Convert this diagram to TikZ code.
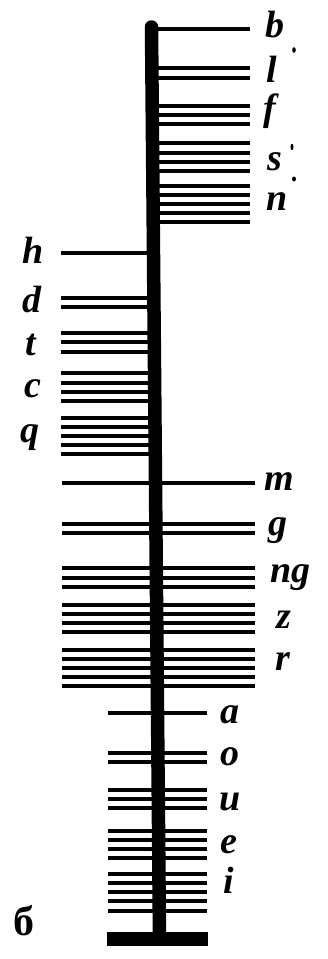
\documentclass[tikz,border=0pt]{standalone}
\usepackage{fontspec}
\setmainfont{Liberation Serif}
\begin{document}
\begin{tikzpicture}[x=1pt,y=-1pt,
  stroke/.style={line width=3.6pt},
  lbl/.style={font=\fontsize{38}{38}\selectfont\bfseries\itshape, inner sep=0pt, anchor=base west},
  mk/.style={fill=black}]
\useasboundingbox (0,0) rectangle (328,959);
% group 1: right of stem
\foreach \y in {29,68,78,106,115,124,143,153,162,171,186,195,204,213,222}
  \draw[stroke] (155,\y) -- (250,\y);
% group 2: left of stem
\foreach \y in {253,298,307,333,342,352,373,383,392,401,418,427,436,445,454}
  \draw[stroke] (61,\y) -- (152,\y);
% group 3: across
\foreach \y in {483,524,533,568,578,587,605,614,623,632,650,659,668,677,686}
  \draw[stroke] (62,\y) -- (255,\y);
% group 4: vowels, short across
\foreach \y in {713,753,762,790,799,808,831,840,849,858,874,883,892,901,911}
  \draw[stroke] (108,\y) -- (207,\y);
% stem and base
\coordinate (top) at (151.5,27);
\coordinate (bot) at (159.5,938);
\draw[line width=13.5pt, line cap=round] (top) -- (bot);
\fill (107,932) rectangle (208,946);
% labels
\node[lbl] (b) at (265,37) {b};
\node[lbl] (l) at (266,82) {l};
\node[lbl] (f) at (263,120) {f};
\node[lbl] (s) at (267,170) {s};
\node[lbl] (n) at (266,210) {n};
\fill[mk] (294,50) ellipse (1.8 and 2.8);
\fill[mk] (292,147) ellipse (1.5 and 3.2);
\fill[mk] (294,179) ellipse (2 and 2.4);
\node[lbl] (h) at (22,263) {h};
\node[lbl] (d) at (22,312) {d};
\node[lbl] (t) at (25,355) {t};
\node[lbl] (c) at (24,397) {c};
\node[lbl] (q) at (20,442) {q};
\node[lbl] (m) at (264,490) {m};
\node[lbl] (g) at (268,535) {g};
\node[lbl] (ng) at (270,582) {ng};
\node[lbl] (z) at (276,628) {z};
\node[lbl] (r) at (275,670) {r};
\node[lbl] (a) at (220,723) {a};
\node[lbl] (o) at (220,765) {o};
\node[lbl] (u) at (219,810) {u};
\node[lbl] (e) at (220,853) {e};
\node[lbl] (i) at (223,893) {i};
\node[font=\fontsize{42}{42}\selectfont\bfseries, inner sep=0pt, anchor=base west] (be) at (13,935) {б};
\end{tikzpicture}
\end{document}
